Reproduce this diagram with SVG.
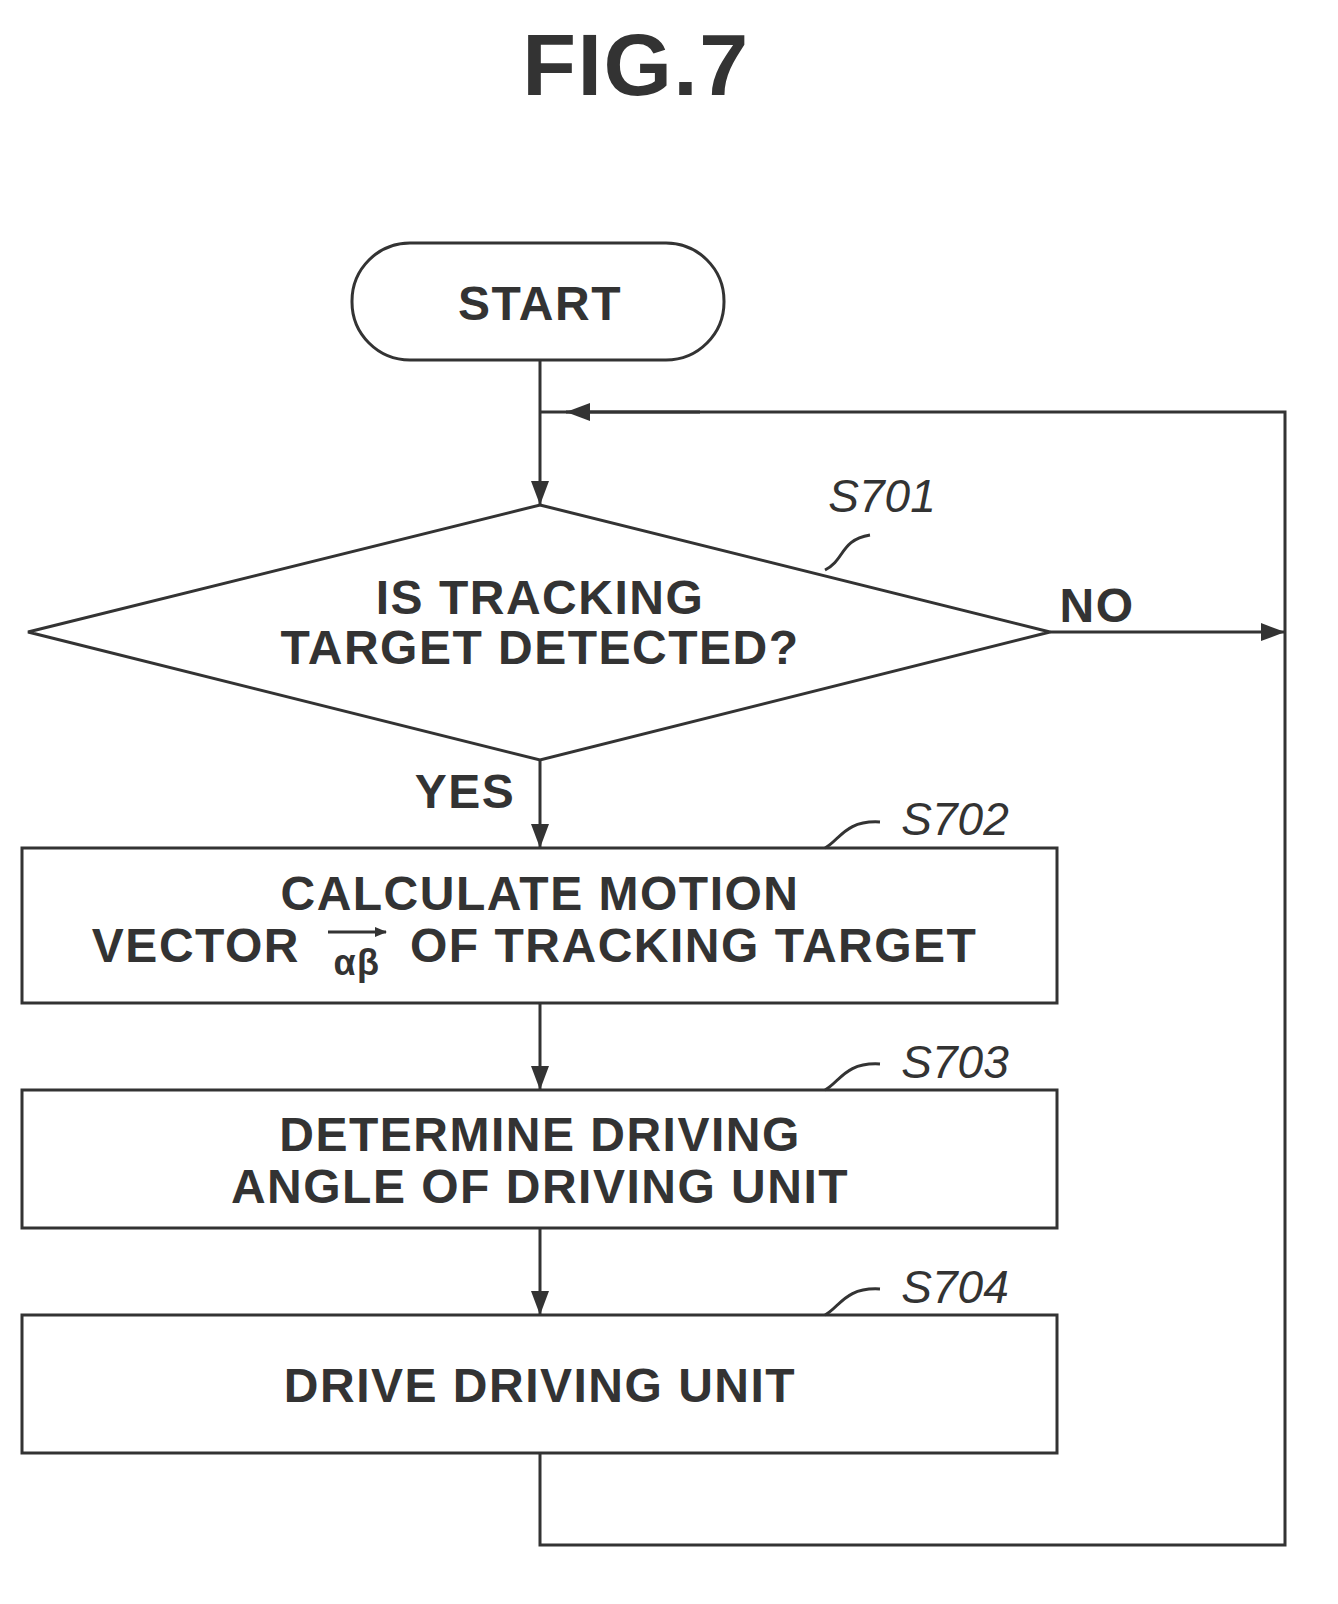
<svg xmlns="http://www.w3.org/2000/svg" width="1338" height="1604" viewBox="0 0 1338 1604">
<style>
.s{fill:none;stroke:#333;stroke-width:3}
.t{font-family:"Liberation Sans",Arial,sans-serif;font-weight:bold;font-size:48px;letter-spacing:1.5px;fill:#333;text-anchor:middle}
.l{font-family:"Liberation Sans",Arial,sans-serif;font-style:italic;font-size:46px;fill:#333;text-anchor:middle}
</style>
<defs><marker id="a" markerWidth="12" markerHeight="10" refX="11" refY="5" orient="auto" markerUnits="userSpaceOnUse" viewBox="0 0 12 10"><path d="M0,0L12,5L0,10Z" fill="#333"/></marker>
<marker id="b" markerWidth="24" markerHeight="18" refX="24" refY="9" orient="auto" markerUnits="userSpaceOnUse"><path d="M0,0L24,9L0,18Z" fill="#333"/></marker></defs>
<text x="636" y="95" class="t" style="font-size:88px">FIG.7</text>
<g id="start"><rect x="352" y="243" width="372" height="117" rx="58" class="s"/><text x="540" y="320" class="t">START</text></g>
<g id="s701"><path d="M540,505L1050,632L540,760L28,632Z" class="s"/><text x="540" y="614" class="t">IS TRACKING</text><text x="540" y="664" class="t">TARGET DETECTED?</text><text x="882" y="512" class="l">S701</text><path d="M825,570C845,560 840,540 870,535" class="s" stroke-width="2"/></g>
<g id="s702"><rect x="22" y="848" width="1035" height="155" class="s"/><text x="540" y="910" class="t">CALCULATE MOTION</text><text x="300" y="962" class="t" style="text-anchor:end">VECTOR</text><text x="357" y="975" class="t" style="font-size:36px">αβ</text><line x1="328" y1="932" x2="386" y2="932" class="s" stroke-width="3" marker-end="url(#a)"/><text x="410" y="962" class="t" style="text-anchor:start">OF TRACKING TARGET</text><text x="955" y="835" class="l">S702</text><path d="M825,848C840,840 845,820 880,822" class="s" stroke-width="2"/></g>
<g id="s703"><rect x="22" y="1090" width="1035" height="138" class="s"/><text x="540" y="1151" class="t">DETERMINE DRIVING</text><text x="540" y="1203" class="t">ANGLE OF DRIVING UNIT</text><text x="955" y="1078" class="l">S703</text><path d="M825,1090C840,1082 845,1062 880,1064" class="s" stroke-width="2"/></g>
<g id="s704"><rect x="22" y="1315" width="1035" height="138" class="s"/><text x="540" y="1402" class="t">DRIVE DRIVING UNIT</text><text x="955" y="1303" class="l">S704</text><path d="M825,1315C840,1307 845,1287 880,1289" class="s" stroke-width="2"/></g>
<g id="connectors">
<line x1="540" y1="360" x2="540" y2="505" class="s" marker-end="url(#b)"/>
<line x1="1050" y1="632" x2="1285" y2="632" class="s" marker-end="url(#b)"/>
<text x="1097" y="622" class="t">NO</text>
<line x1="540" y1="760" x2="540" y2="848" class="s" marker-end="url(#b)"/>
<text x="465" y="808" class="t">YES</text>
<line x1="540" y1="1003" x2="540" y2="1090" class="s" marker-end="url(#b)"/>
<line x1="540" y1="1228" x2="540" y2="1315" class="s" marker-end="url(#b)"/>
<path d="M540,1453V1545H1285V412H540" class="s"/>
<line x1="700" y1="412" x2="566" y2="412" class="s" marker-end="url(#b)"/>
</g>
</svg>
